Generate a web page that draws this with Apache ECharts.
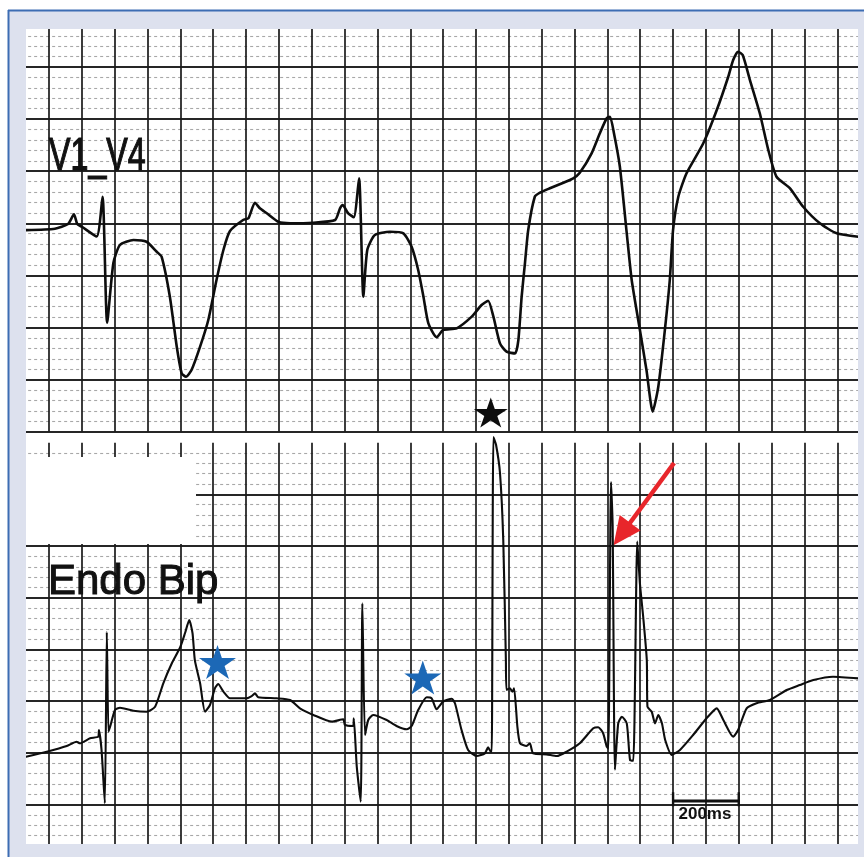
<!DOCTYPE html>
<html><head><meta charset="utf-8">
<script src="https://cdn.jsdelivr.net/npm/echarts@6/dist/echarts.min.js"></script>
<style>html,body{margin:0;padding:0;background:#fff}#c{width:864px;height:857px}</style>
</head><body><div id="c"></div><script>
// ---- data (time in ms, amplitude in mm of paper; 5 mm per major division) ----
const v1v4Time = [-70,18,58,76,86,100,145,163,177,196,216,257,297,328,343,368,389,404,417,434,460,485,510,531,551,591,607,627,642,663,698,734,805,871,886,894,911,928,944,957,969,992,1038,1079,1104,1124,1140,1155,1180,1200,1241,1287,1317,1337,1353,1373,1393,1419,1429,1439,1449,1459,1479,1495,1525,1566,1596,1616,1652,1677,1698,1708,1720,1738,1759,1774,1799,1819,1838,1855,1875,1890,1900,1916,1941,1992,2033,2068,2083,2098,2112,2134,2164,2190,2215,2256,2296,2347,2398,2464];
const v1v4Amp = [19.35,19.48,19.93,20.86,19.93,19.67,18.73,22.55,10.46,16.19,17.92,18.4,18.23,17.27,16.79,12.96,8.16,5.6,5.28,5.92,8.16,10.72,14.56,17.44,19.26,20.32,20.48,21.98,21.44,20.96,20.15,20.0,20.06,20.32,21.44,21.76,20.96,20.58,24.32,12.96,17.44,18.88,19.19,19.04,17.75,15.52,12.96,10.4,9.06,9.76,9.92,11.04,12.16,12.57,11.04,8.48,7.68,7.52,8.8,12.96,16.16,19.36,22.55,22.94,23.36,23.9,24.32,24.86,26.72,28.64,30.08,30.23,28.64,25.43,19.04,14.56,9.76,5.92,1.92,4.32,9.76,14.56,19.36,22.55,24.8,27.68,30.87,34.07,35.67,36.47,36.15,33.75,30.56,27.03,24.47,23.36,21.59,20.0,19.04,18.71];
const endoTime = [-70,-7,54,84,94,125,150,152,160,170,176,181,186,201,216,257,297,323,348,374,399,414,427,437,444,460,475,490,505,515,531,551,602,617,627,637,693,734,764,805,861,896,901,926,928,937,949,954,962,972,987,1028,1058,1089,1104,1124,1150,1165,1180,1200,1226,1236,1256,1276,1302,1327,1337,1345,1348,1353,1361,1373,1383,1391,1393,1403,1411,1416,1426,1434,1454,1464,1474,1515,1546,1576,1616,1657,1672,1687,1698,1703,1711,1716,1723,1733,1744,1759,1769,1779,1791,1799,1809,1820,1822,1835,1845,1855,1866,1876,1896,1921,1961,2002,2033,2053,2083,2098,2124,2154,2195,2246,2286,2327,2387,2464];
const endoAmp = [9.63,10.12,10.67,11.08,10.93,11.41,11.57,12.21,10.28,5.13,21.69,12.05,12.53,14.15,14.37,14.08,13.98,14.47,16.73,18.67,20.19,21.57,22.85,21.57,18.98,16.73,13.98,14.63,16.25,16.66,15.92,15.28,15.28,15.5,15.76,15.38,15.28,15.12,14.31,13.67,13.02,13.25,12.7,12.6,13.35,8.67,5.28,24.47,11.73,13.18,13.67,13.18,12.6,12.28,12.6,14.15,15.38,15.28,14.22,14.95,15.24,14.8,12.21,10.28,9.7,9.96,10.54,10.12,10.12,40.55,39.8,37.09,30.59,18.99,16.08,16.25,15.92,16.25,12.53,10.93,10.67,10.93,9.96,9.86,9.7,10.12,10.93,12.38,12.48,11.9,10.6,10.44,36.2,32.04,8.37,12.86,13.5,12.86,9.31,9.25,30.43,26.4,23.17,18.98,14.47,13.98,12.86,13.67,12.86,11.25,9.8,10.28,11.73,13.35,14.31,13.18,11.57,12.21,14.31,14.8,15.12,16.08,16.57,17.05,17.37,17.21];
const blackStarPoint = [1345, 1.84];
const blueStarTimes = [513, 1138];
const blueStarAmps = [18.79, 17.29];
const arrowFrom = [1903, 38.04];
const arrowTo = [1744, 31.17];
const scaleBarTimes = [1900, 2100];
const scaleBarLevel = 5.35;
const scaleBarTickTop = 6.2;
const scaleBarTickBottom = 4.85;
const scaleBarLabel = '200ms';
const scaleBarLabelPoint = [1997, 4.1];
const labelTop = 'V1_V4';
const labelBottom = 'Endo Bip';
const xMin = -100, xMax = 2463, xInterval = 100;
const topYMax = 38.65, bottomYMax = 40, yInterval = 5, minorSplit = 5;

// ---- chart ----
const zip = (a, b) => a.map((t, i) => [t, b[i]]);
const STAR = 'path://M50,0 L61.23,34.55 L97.55,34.55 L68.17,55.9 L79.39,90.45 L50,69.1 L20.61,90.45 L31.83,55.9 L2.45,34.55 L38.77,34.55 Z';
const FRAME = '#dde1ee', BORDER = '#3d6db3';

function xAxisCfg(gi) {
  return {
    type: 'value', gridIndex: gi, min: xMin, max: xMax, interval: xInterval,
    axisLine: {show: false}, axisTick: {show: false}, axisLabel: {show: false},
    splitLine: {show: true, showMinLine: false, showMaxLine: false, lineStyle: {color: '#1a1a1a', width: 1.7}}
  };
}
function yAxisCfg(gi, max) {
  return {
    type: 'value', gridIndex: gi, min: 0, max: max, interval: yInterval,
    axisLine: {show: false}, axisTick: {show: false}, axisLabel: {show: false},
    splitLine: {show: true, showMaxLine: false, lineStyle: {color: '#262626', width: 2}},
    minorTick: {show: false, splitNumber: minorSplit},
    minorSplitLine: {show: true, lineStyle: {color: '#a8a8a8', width: 1.1, type: [3, 3]}}
  };
}

const chart = echarts.init(document.getElementById('c'), null, {renderer: 'canvas'});
const lineBase = {type: 'line', showSymbol: false, symbol: 'none', animation: false, silent: true};
const traceSmooth = {smooth: 0.2};
chart.setOption({
  backgroundColor: '#ffffff',
  animation: false,
  grid: [
    {left: 16.15, top: 29, width: 841.85, height: 402.7},
    {left: 16.15, top: 442.7, width: 841.85, height: 413.6}
  ],
  xAxis: [xAxisCfg(0), xAxisCfg(1)],
  yAxis: [yAxisCfg(0, topYMax), yAxisCfg(1, bottomYMax)],
  series: [
    Object.assign({}, lineBase, traceSmooth, {name: labelTop, xAxisIndex: 0, yAxisIndex: 0, data: zip(v1v4Time, v1v4Amp),
      lineStyle: {color: '#0d0d0d', width: 2.6, join: 'round', cap: 'round'}, z: 5}),
    Object.assign({}, lineBase, traceSmooth, {name: labelBottom, xAxisIndex: 1, yAxisIndex: 1, clip: false, data: zip(endoTime, endoAmp),
      lineStyle: {color: '#0d0d0d', width: 2.1, join: 'round', cap: 'round'}, z: 5,
      markLine: {silent: true, animation: false, symbol: ['none', 'triangle'], symbolSize: [26, 28], label: {show: false},
        lineStyle: {color: '#e8262b', width: 4.5, type: 'solid'},
        data: [[{coord: arrowFrom}, {coord: arrowTo}]]}}),
    {type: 'scatter', xAxisIndex: 0, yAxisIndex: 0, symbol: STAR, symbolSize: [34, 30], data: [blackStarPoint],
      itemStyle: {color: '#0d0d0d', opacity: 1}, animation: false, silent: true, z: 6},
    {type: 'scatter', xAxisIndex: 1, yAxisIndex: 1, symbol: STAR, symbolSize: [37, 34], data: zip(blueStarTimes, blueStarAmps),
      itemStyle: {color: '#1c68b6', opacity: 1}, animation: false, silent: true, z: 6},
    Object.assign({}, lineBase, {xAxisIndex: 1, yAxisIndex: 1, lineStyle: {color: '#111', width: 2.8},
      data: [[scaleBarTimes[0], scaleBarLevel], [scaleBarTimes[1], scaleBarLevel]], z: 6}),
    Object.assign({}, lineBase, {xAxisIndex: 1, yAxisIndex: 1, lineStyle: {color: '#111', width: 2.4},
      data: [[scaleBarTimes[0], scaleBarTickTop], [scaleBarTimes[0], scaleBarTickBottom]], z: 6}),
    Object.assign({}, lineBase, {xAxisIndex: 1, yAxisIndex: 1, lineStyle: {color: '#111', width: 2.4},
      data: [[scaleBarTimes[1], scaleBarTickTop], [scaleBarTimes[1], scaleBarTickBottom]], z: 6}),
    {type: 'scatter', xAxisIndex: 1, yAxisIndex: 1, symbol: 'circle', symbolSize: 2, itemStyle: {color: 'rgba(0,0,0,0)', opacity: 1},
      data: [scaleBarLabelPoint], animation: false, silent: true, z: 7,
      label: {show: true, position: 'inside', formatter: scaleBarLabel, color: '#111', fontSize: 17, fontWeight: 'bold',
        fontFamily: '"Liberation Sans", Arial, sans-serif'}}
  ],
  graphic: {elements: [
    // blank patch on the lower strip
    {type: 'rect', z: 1, silent: true, shape: {x: 26, y: 457, width: 170, height: 87}, style: {fill: '#ffffff'}},
    // channel labels
    {type: 'text', z: 10, silent: true, x: 49, y: 157, scaleX: 0.7,
      style: {text: labelTop, fill: '#111', stroke: '#111', lineWidth: 1.2, font: '46px "Liberation Sans", Arial, sans-serif', verticalAlign: 'middle', align: 'left'}},
    {type: 'text', z: 10, silent: true, x: 48, y: 582,
      style: {text: labelBottom, fill: '#111', stroke: '#111', lineWidth: 1, font: '42px "Liberation Sans", Arial, sans-serif', verticalAlign: 'middle', align: 'left'}},
    // frame around the paper
    {type: 'rect', z: 100, silent: true, shape: {x: 8, y: 10, width: 856, height: 19}, style: {fill: FRAME}},
    {type: 'rect', z: 100, silent: true, shape: {x: 8, y: 10, width: 18, height: 847}, style: {fill: FRAME}},
    {type: 'rect', z: 100, silent: true, shape: {x: 858, y: 10, width: 6, height: 847}, style: {fill: FRAME}},
    {type: 'rect', z: 100, silent: true, shape: {x: 8, y: 844, width: 856, height: 13}, style: {fill: FRAME}},
    {type: 'line', z: 101, silent: true, shape: {x1: 8, y1: 10.5, x2: 864, y2: 10.5}, style: {stroke: BORDER, lineWidth: 2}},
    {type: 'line', z: 101, silent: true, shape: {x1: 8.5, y1: 10, x2: 8.5, y2: 857}, style: {stroke: BORDER, lineWidth: 2}}
  ]}
});
</script></body></html>
